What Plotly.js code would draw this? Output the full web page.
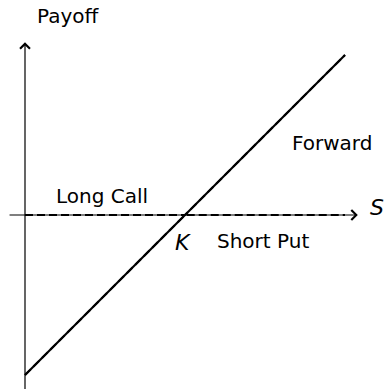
<!DOCTYPE html>
<html><head><meta charset="utf-8">
<script src="https://cdn.plot.ly/plotly-3.0.1.min.js"></script>
<style>html,body{margin:0;padding:0;background:#fff}#c{width:386px;height:389px}</style>
</head><body><div id="c"></div>
<script>
// Strike K = 1; payoff segments
const forwardS = [0, 2];
const forwardPayoff = [-1, 1];
const longCallS = [0, 1, 2];
const longCallPayoff = [0, 0, 1];
const shortPutS = [0, 1, 2];
const shortPutPayoff = [-1, 0, 0];

const labelText = ["Long Call", "Short Put", "Forward"];
const labelS = [0.48, 1.49, 1.92];
const labelY = [0.12, -0.16, 0.45];

const font = {family: "DejaVu Sans, sans-serif", size: 20, color: "#000"};

const traces = [
  {x: forwardS, y: forwardPayoff, mode: "lines", line: {color: "#000", width: 2.2}, hoverinfo: "skip"},
  {x: longCallS, y: longCallPayoff, mode: "lines", line: {color: "#000", width: 2, dash: "8px,4px"}, hoverinfo: "skip"},
  {x: shortPutS, y: shortPutPayoff, mode: "lines", line: {color: "#000", width: 2, dash: "8px,4px"}, hoverinfo: "skip"}
];

const annotations = [
  // axes arrows
  {x: 2.08, y: 0, ax: -0.106, ay: 0, xref: "x", yref: "y", axref: "x", ayref: "y", text: "", showarrow: true, arrowhead: 4, arrowsize: 1.6, arrowwidth: 1.2, arrowcolor: "#000"},
  {x: 0, y: 1.08, ax: 0, ay: -1.1, xref: "x", yref: "y", axref: "x", ayref: "y", text: "", showarrow: true, arrowhead: 4, arrowsize: 1.6, arrowwidth: 1.2, arrowcolor: "#000"},
  {x: 0.27, y: 1.245, text: "Payoff", showarrow: false, font: font, xref: "x", yref: "y"},
  {x: 2.2, y: 0.05, text: "<i>S</i>", showarrow: false, font: Object.assign({}, font, {size: 22}), xref: "x", yref: "y"},
  {x: 0.99, y: -0.17, text: "<i>K</i>", showarrow: false, font: Object.assign({}, font, {size: 22}), xref: "x", yref: "y"}
];
labelText.forEach((t, i) => annotations.push({x: labelS[i], y: labelY[i], text: t, showarrow: false, font: font, xref: "x", yref: "y"}));

const layout = {
  width: 386, height: 389,
  margin: {l: 0, r: 0, t: 0, b: 0},
  paper_bgcolor: "#fff", plot_bgcolor: "#fff",
  showlegend: false,
  xaxis: {range: [-0.15625, 2.25625], visible: false, fixedrange: true},
  yaxis: {range: [-1.0875, 1.34375], visible: false, fixedrange: true},
  annotations: annotations
};
Plotly.newPlot("c", traces, layout, {displayModeBar: false, staticPlot: true});
</script></body></html>
